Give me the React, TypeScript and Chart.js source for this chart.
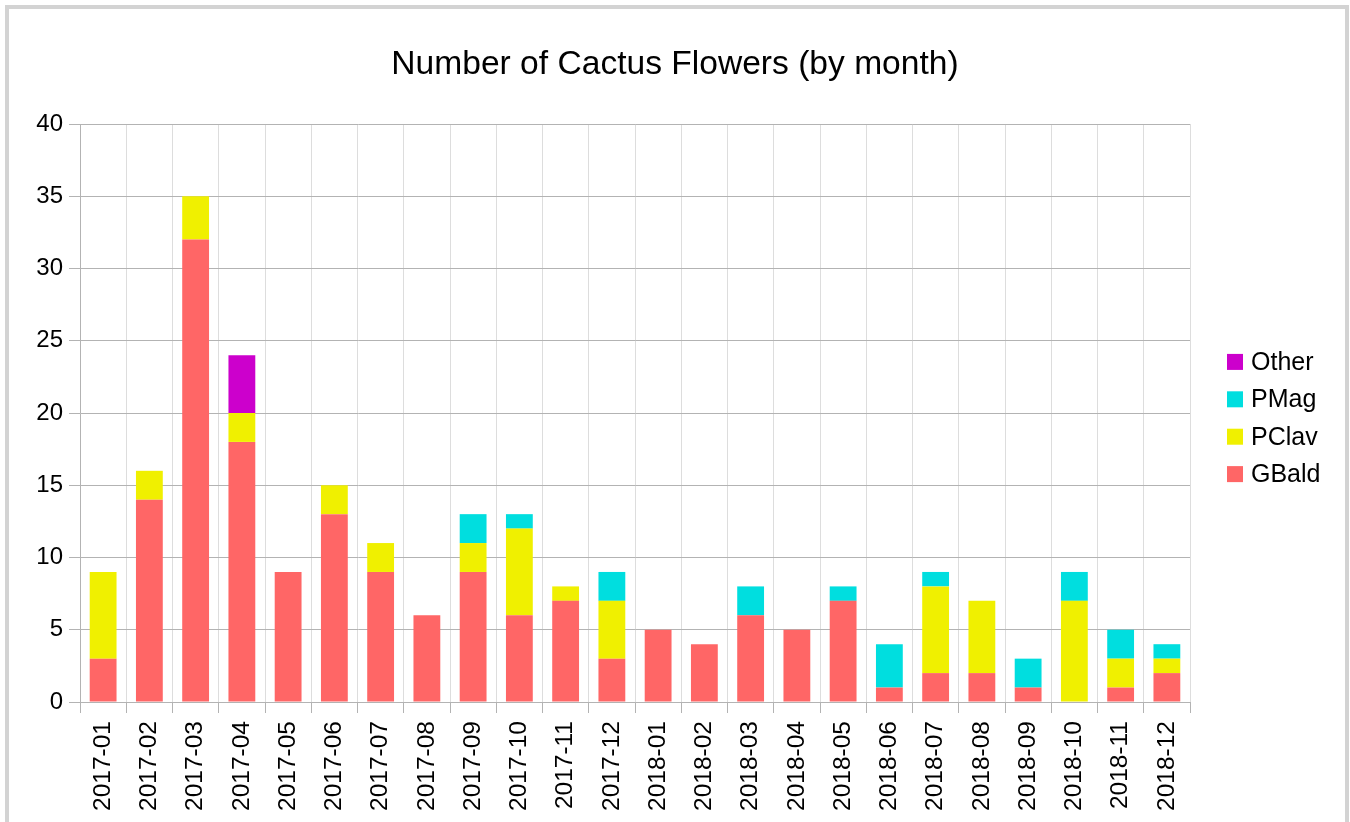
import React, { useEffect, useRef } from 'react';
import { Chart, registerables } from 'chart.js';

Chart.register(...registerables);

const months = [
  '2017-01', '2017-02', '2017-03', '2017-04', '2017-05', '2017-06',
  '2017-07', '2017-08', '2017-09', '2017-10', '2017-11', '2017-12',
  '2018-01', '2018-02', '2018-03', '2018-04', '2018-05', '2018-06',
  '2018-07', '2018-08', '2018-09', '2018-10', '2018-11', '2018-12',
];
const gbald = [3, 14, 32, 18, 9, 13, 9, 6, 9, 6, 7, 3, 5, 4, 6, 5, 7, 1, 2, 2, 1, 0, 1, 2];
const pclav = [6, 2, 3, 2, 0, 2, 2, 0, 2, 6, 1, 4, 0, 0, 0, 0, 0, 0, 6, 5, 0, 7, 2, 1];
const pmag = [0, 0, 0, 0, 0, 0, 0, 0, 2, 1, 0, 2, 0, 0, 2, 0, 1, 3, 1, 0, 2, 2, 2, 1];
const other = [0, 0, 0, 4, 0, 0, 0, 0, 0, 0, 0, 0, 0, 0, 0, 0, 0, 0, 0, 0, 0, 0, 0, 0];

const seriesNames = ['GBald', 'PClav', 'PMag', 'Other'];
const seriesColors = ['#ff6666', '#f0f000', '#00dedf', '#cc00cc'];
const titleText = 'Number of Cactus Flowers (by month)';
const yMin = 0;
const yMax = 40;
const yStep = 5;

const FONT = "'Liberation Sans', Arial, sans-serif";

const sideLegend = {
  id: 'sideLegend',
  afterDraw(chart: any) {
    const ctx = chart.ctx;
    const ds = chart.data.datasets;
    const area = chart.chartArea;
    const x = area.right + 37;
    const spacing = 37.4;
    const n = ds.length;
    const centerY = (area.top + area.bottom) / 2 + 5;
    const startY = centerY - ((n - 1) * spacing) / 2;
    ctx.save();
    ctx.font = `25px ${FONT}`;
    ctx.textBaseline = 'middle';
    ctx.textAlign = 'left';
    for (let k = 0; k < n; k++) {
      const d = ds[n - 1 - k];
      const cy = startY + k * spacing;
      ctx.fillStyle = d.backgroundColor;
      ctx.fillRect(x, cy - 8, 16, 16);
      ctx.fillStyle = '#000000';
      ctx.fillText(d.label, x + 24, cy + 1);
    }
    ctx.restore();
  },
};

export default function App() {
  const ref = useRef<HTMLCanvasElement | null>(null);

  useEffect(() => {
    if (!ref.current) return;
    const seriesData = [gbald, pclav, pmag, other];
    const chart = new Chart(ref.current, {
      type: 'bar',
      data: {
        labels: months,
        datasets: seriesNames.map((name, i) => ({
          label: name,
          data: seriesData[i],
          backgroundColor: seriesColors[i],
          borderWidth: 0,
          barPercentage: 0.58,
          categoryPercentage: 1,
        })),
      },
      options: {
        animation: false,
        responsive: false,
        maintainAspectRatio: false,
        layout: { padding: 0 },
        plugins: {
          legend: { display: false },
          tooltip: { enabled: false },
          title: {
            display: true,
            text: titleText,
            color: '#000000',
            font: { family: FONT, size: 33.6, weight: 'normal', lineHeight: 1.2 },
            padding: { top: 45, bottom: 38.7 },
          },
        },
        scales: {
          x: {
            stacked: true,
            offset: true,
            grid: {
              offset: true,
              color: '#dddddd',
              tickColor: '#b3b3b3',
              tickLength: 11,
              lineWidth: 1,
            },
            border: { display: true, color: '#b3b3b3' },
            ticks: {
              autoSkip: false,
              maxRotation: 90,
              minRotation: 90,
              padding: 8,
              color: '#000000',
              font: { family: FONT, size: 24.5 },
            },
            afterFit(scale: any) {
              scale.height = 120;
            },
          },
          y: {
            stacked: true,
            min: yMin,
            max: yMax,
            ticks: {
              stepSize: yStep,
              padding: 6,
              color: '#000000',
              font: { family: FONT, size: 24 },
            },
            grid: {
              color: '#b3b3b3',
              tickColor: '#b3b3b3',
              tickLength: 11,
            },
            border: { display: true, color: '#b3b3b3' },
            afterFit(scale: any) {
              scale.width = 80;
            },
          },
          legendSpace: {
            type: 'linear',
            position: 'right',
            display: true,
            grid: { display: false, drawTicks: false },
            border: { display: false },
            ticks: { display: false },
            afterFit(scale: any) {
              scale.width = 160;
            },
          },
        },
      },
      plugins: [sideLegend],
    });
    return () => chart.destroy();
  }, []);

  return (
    <>
      <canvas
        ref={ref}
        width={1350}
        height={822}
        style={{ position: 'fixed', left: 0, top: 0, width: 1350, height: 822, background: '#ffffff' }}
      />
      <div
        style={{
          position: 'fixed',
          left: 5,
          top: 5,
          width: 1344,
          height: 900,
          boxSizing: 'border-box',
          border: '4px solid #d3d3d3',
          pointerEvents: 'none',
        }}
      />
    </>
  );
}
